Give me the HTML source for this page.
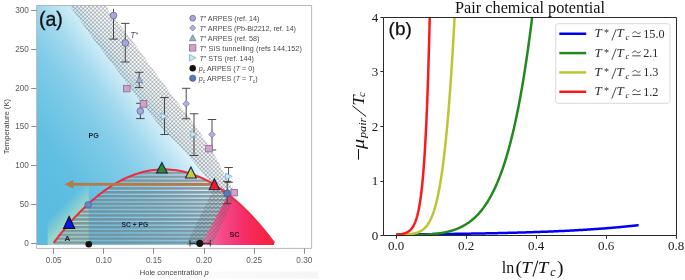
<!DOCTYPE html>
<html><head><meta charset="utf-8"><style>
html,body{margin:0;padding:0;background:#fff;width:685px;height:280px;overflow:hidden}
svg{display:block;will-change:transform}

</style></head><body>
<svg width="685" height="280" viewBox="0 0 685 280">
<defs>
<pattern id="xh" width="2.8" height="2.8" patternUnits="userSpaceOnUse" patternTransform="rotate(45)">
  <rect width="2.8" height="2.8" fill="none"/>
  <line x1="0" y1="0" x2="0" y2="2.8" stroke="#55595f" stroke-opacity="0.7" stroke-width="0.95"/>
  <line x1="0" y1="0" x2="2.8" y2="0" stroke="#55595f" stroke-opacity="0.7" stroke-width="0.95"/>
</pattern>
<pattern id="stripes" width="10" height="3.87" patternUnits="userSpaceOnUse" y="202.64">
  <rect y="0" width="10" height="2.6" fill="#72838b" fill-opacity="0.75"/>
  <rect y="2.6" width="10" height="1.27" fill="#ffffff" fill-opacity="0.15"/>
</pattern>
<linearGradient id="blueg" gradientUnits="userSpaceOnUse" x1="164.1" y1="83.1" x2="-20.4" y2="220.4">
  <stop offset="0" stop-color="#ffffff"/>
  <stop offset="0.087" stop-color="#ebf7fb"/>
  <stop offset="0.13" stop-color="#cdecf7"/>
  <stop offset="0.239" stop-color="#a0d8ee"/>
  <stop offset="0.348" stop-color="#82cce8"/>
  <stop offset="0.565" stop-color="#61bfe2"/>
  <stop offset="0.739" stop-color="#5abce0"/>
  <stop offset="1" stop-color="#55b9de"/>
</linearGradient>
<linearGradient id="greeng" gradientUnits="userSpaceOnUse" x1="59" y1="209" x2="70" y2="220">
  <stop offset="0" stop-color="#b0dfc0" stop-opacity="0"/>
  <stop offset="1" stop-color="#b0dfc0" stop-opacity="0.72"/>
</linearGradient>
<linearGradient id="pinkg" gradientUnits="userSpaceOnUse" x1="200" y1="0" x2="275" y2="0">
  <stop offset="0" stop-color="#f284b0"/>
  <stop offset="0.3" stop-color="#f34a88"/>
  <stop offset="0.6" stop-color="#f52c66"/>
  <stop offset="1" stop-color="#f81e34"/>
</linearGradient>
<clipPath id="lp"><rect x="37" y="5.5" width="274.2" height="239.5"/></clipPath>
<clipPath id="domec"><path d="M53.60,242.96 L56.39,239.28 L59.19,235.69 L61.98,232.20 L64.77,228.81 L67.56,225.50 L70.36,222.30 L73.15,219.18 L75.94,216.16 L78.73,213.24 L81.53,210.41 L84.32,207.67 L87.11,205.03 L89.90,202.48 L92.70,200.03 L95.49,197.67 L98.28,195.40 L101.07,193.23 L103.87,191.16 L106.66,189.17 L109.45,187.29 L112.24,185.49 L115.04,183.80 L117.83,182.19 L120.62,180.68 L123.42,179.27 L126.21,177.95 L129.00,176.72 L131.79,175.59 L134.59,174.55 L137.38,173.60 L140.17,172.76 L142.96,172.00 L145.76,171.34 L148.55,170.77 L151.34,170.30 L154.13,169.92 L156.93,169.64 L159.72,169.45 L162.51,169.36 L165.30,169.36 L168.10,169.45 L170.89,169.64 L173.68,169.92 L176.47,170.30 L179.27,170.77 L182.06,171.34 L184.85,172.00 L187.65,172.76 L190.44,173.60 L193.23,174.55 L196.02,175.59 L198.82,176.72 L201.61,177.95 L204.40,179.27 L207.19,180.68 L209.99,182.19 L212.78,183.80 L215.57,185.49 L218.36,187.29 L221.16,189.17 L223.95,191.16 L226.74,193.23 L229.53,195.40 L232.33,197.67 L235.12,200.03 L237.91,202.48 L240.70,205.03 L243.50,207.67 L246.29,210.41 L249.08,213.24 L251.88,216.16 L254.67,219.18 L257.46,222.30 L260.25,225.50 L263.05,228.81 L265.84,232.20 L268.63,235.69 L271.42,239.28 L274.22,242.96 L274.22,245.5 L53.60,245.5 Z"/></clipPath>
<clipPath id="rp"><rect x="384" y="17.5" width="292" height="218"/></clipPath>
</defs>
<rect width="685" height="280" fill="#fff"/>
<defs><linearGradient id="botg" x1="0" x2="1" y1="0" y2="0"><stop offset="0" stop-color="#f7f7f7" stop-opacity="0"/><stop offset="0.5" stop-color="#f7f7f7" stop-opacity="0.6"/><stop offset="1" stop-color="#f5f5f5"/></linearGradient></defs><rect x="110" y="271.5" width="208.5" height="7" fill="url(#botg)"/>
<g clip-path="url(#lp)">
<rect x="37" y="5" width="275" height="241" fill="url(#blueg)"/>
<rect x="47.6" y="185" width="41.1" height="61" fill="url(#greeng)"/>
<g clip-path="url(#domec)"><rect x="37" y="160" width="275" height="86" fill="url(#stripes)"/></g>
<g clip-path="url(#domec)"><polygon points="229.1,195.1 230.6,196.3 232.2,197.6 233.8,198.9 235.3,200.2 236.9,201.6 238.4,202.9 240.0,204.4 241.5,205.8 243.1,207.3 244.7,208.8 246.2,210.3 247.8,211.9 249.3,213.5 250.9,215.1 252.4,216.8 254.0,218.4 255.5,220.1 257.1,221.9 258.7,223.7 260.2,225.5 261.8,227.3 263.3,229.1 264.9,231.0 266.4,232.9 268.0,234.9 269.5,236.9 271.1,238.9 272.7,240.9 274.2,243.0 274.2,245.5 200.5,245.5 233.0,186.0" fill="url(#pinkg)"/></g>
<polygon points="69.3,5.0 73.3,11.0 94.1,40.0 117.0,70.0 139.2,100.0 163.0,130.0 178.7,145.0 192.0,160.0 200.4,170.0 207.0,178.0 213.0,190.0 186.0,245.5 212.0,245.5 236.0,193.0 227.5,180.0 222.4,170.0 217.5,160.0 198.6,130.0 175.7,100.0 153.5,70.0 132.0,40.0 108.5,11.0 106.6,5.0" fill="url(#xh)"/>
</g>
<path d="M53.60,242.96 L56.39,239.28 L59.19,235.69 L61.98,232.20 L64.77,228.81 L67.56,225.50 L70.36,222.30 L73.15,219.18 L75.94,216.16 L78.73,213.24 L81.53,210.41 L84.32,207.67 L87.11,205.03 L89.90,202.48 L92.70,200.03 L95.49,197.67 L98.28,195.40 L101.07,193.23 L103.87,191.16 L106.66,189.17 L109.45,187.29 L112.24,185.49 L115.04,183.80 L117.83,182.19 L120.62,180.68 L123.42,179.27 L126.21,177.95 L129.00,176.72 L131.79,175.59 L134.59,174.55 L137.38,173.60 L140.17,172.76 L142.96,172.00 L145.76,171.34 L148.55,170.77 L151.34,170.30 L154.13,169.92 L156.93,169.64 L159.72,169.45 L162.51,169.36 L165.30,169.36 L168.10,169.45 L170.89,169.64 L173.68,169.92 L176.47,170.30 L179.27,170.77 L182.06,171.34 L184.85,172.00 L187.65,172.76 L190.44,173.60 L193.23,174.55 L196.02,175.59 L198.82,176.72 L201.61,177.95 L204.40,179.27 L207.19,180.68 L209.99,182.19 L212.78,183.80 L215.57,185.49 L218.36,187.29 L221.16,189.17 L223.95,191.16 L226.74,193.23 L229.53,195.40 L232.33,197.67 L235.12,200.03 L237.91,202.48 L240.70,205.03 L243.50,207.67 L246.29,210.41 L249.08,213.24 L251.88,216.16 L254.67,219.18 L257.46,222.30 L260.25,225.50 L263.05,228.81 L265.84,232.20 L268.63,235.69 L271.42,239.28 L274.22,242.96" fill="none" stroke="#ec2a40" stroke-width="2"/>
<rect x="71" y="182.9" width="140" height="2.8" fill="#b47b48"/>
<polygon points="64.4,184.3 73.3,180 73.3,188.5" fill="#b47b48"/>
<line x1="113.5" y1="8.8" x2="113.5" y2="39.1" stroke="#383838" stroke-width="0.9"/><line x1="109.3" y1="39.1" x2="117.7" y2="39.1" stroke="#383838" stroke-width="0.9"/>
<line x1="125.3" y1="23.4" x2="125.3" y2="62" stroke="#383838" stroke-width="0.9"/><line x1="121.1" y1="23.4" x2="129.5" y2="23.4" stroke="#383838" stroke-width="0.9"/><line x1="121.1" y1="62" x2="129.5" y2="62" stroke="#383838" stroke-width="0.9"/>
<line x1="139.2" y1="72.3" x2="139.2" y2="87.6" stroke="#383838" stroke-width="0.9"/><line x1="135.0" y1="72.3" x2="143.39999999999998" y2="72.3" stroke="#383838" stroke-width="0.9"/><line x1="135.0" y1="87.6" x2="143.39999999999998" y2="87.6" stroke="#383838" stroke-width="0.9"/>
<line x1="140.4" y1="103.3" x2="140.4" y2="118.6" stroke="#383838" stroke-width="0.9"/><line x1="136.20000000000002" y1="103.3" x2="144.6" y2="103.3" stroke="#383838" stroke-width="0.9"/><line x1="136.20000000000002" y1="118.6" x2="144.6" y2="118.6" stroke="#383838" stroke-width="0.9"/>
<line x1="164.5" y1="97.5" x2="164.5" y2="134.5" stroke="#383838" stroke-width="0.9"/><line x1="160.3" y1="97.5" x2="168.7" y2="97.5" stroke="#383838" stroke-width="0.9"/><line x1="160.3" y1="134.5" x2="168.7" y2="134.5" stroke="#383838" stroke-width="0.9"/>
<line x1="186.2" y1="88.3" x2="186.2" y2="118.8" stroke="#383838" stroke-width="0.9"/><line x1="182.0" y1="88.3" x2="190.39999999999998" y2="88.3" stroke="#383838" stroke-width="0.9"/><line x1="182.0" y1="118.8" x2="190.39999999999998" y2="118.8" stroke="#383838" stroke-width="0.9"/>
<line x1="194" y1="113.8" x2="194" y2="155.5" stroke="#383838" stroke-width="0.9"/><line x1="189.8" y1="113.8" x2="198.2" y2="113.8" stroke="#383838" stroke-width="0.9"/><line x1="189.8" y1="155.5" x2="198.2" y2="155.5" stroke="#383838" stroke-width="0.9"/>
<line x1="212" y1="119.5" x2="212" y2="150" stroke="#383838" stroke-width="0.9"/><line x1="207.8" y1="119.5" x2="216.2" y2="119.5" stroke="#383838" stroke-width="0.9"/><line x1="207.8" y1="150" x2="216.2" y2="150" stroke="#383838" stroke-width="0.9"/>
<line x1="228.6" y1="167.5" x2="228.6" y2="182.3" stroke="#383838" stroke-width="0.9"/><line x1="224.4" y1="167.5" x2="232.79999999999998" y2="167.5" stroke="#383838" stroke-width="0.9"/><line x1="224.4" y1="182.3" x2="232.79999999999998" y2="182.3" stroke="#383838" stroke-width="0.9"/>
<line x1="227.2" y1="181.4" x2="227.2" y2="203.7" stroke="#383838" stroke-width="0.9"/><line x1="223.0" y1="181.4" x2="231.39999999999998" y2="181.4" stroke="#383838" stroke-width="0.9"/><line x1="223.0" y1="203.7" x2="231.39999999999998" y2="203.7" stroke="#383838" stroke-width="0.9"/>
<circle cx="113.5" cy="15.6" r="3.4" fill="#a7a7d8" stroke="#5d5d94" stroke-width="0.7"/>
<circle cx="125.3" cy="43" r="3.4" fill="#a7a7d8" stroke="#5d5d94" stroke-width="0.7"/>
<polygon points="139.2,76.5 142.5,82.60499999999999 135.89999999999998,82.60499999999999" fill="#9cb2cf" stroke="#5a7394" stroke-width="0.7"/>
<rect x="123.5" y="85.3" width="6.6" height="6.6" fill="#cfa2cc" stroke="#85607f" stroke-width="0.7"/>
<rect x="140.2" y="100.60000000000001" width="6.6" height="6.6" fill="#cfa2cc" stroke="#85607f" stroke-width="0.7"/>
<circle cx="140.3" cy="111.1" r="3.3" fill="#a7a7d8" stroke="#5d5d94" stroke-width="0.7"/>
<polygon points="167.8,116.3 161.2,113.0 161.2,119.6" fill="#c4eaf6" stroke="#7ba1b8" stroke-width="0.7"/>
<polygon points="186.2,100.5 189.5,103.8 186.2,107.1 182.89999999999998,103.8" fill="#b0b0de" stroke="#6e6ea6" stroke-width="0.7"/>
<polygon points="197.3,134.3 190.7,131.0 190.7,137.60000000000002" fill="#c4eaf6" stroke="#7ba1b8" stroke-width="0.7"/>
<polygon points="212,131.2 215.3,134.5 212,137.8 208.7,134.5" fill="#b0b0de" stroke="#6e6ea6" stroke-width="0.7"/>
<rect x="205.7" y="145.29999999999998" width="6.6" height="6.6" fill="#cfa2cc" stroke="#85607f" stroke-width="0.7"/>
<polygon points="232.20000000000002,176.4 225.6,173.1 225.6,179.70000000000002" fill="#c4eaf6" stroke="#7ba1b8" stroke-width="0.7"/>
<rect x="231.0" y="189.39999999999998" width="6.6" height="6.6" fill="#cfa2cc" stroke="#85607f" stroke-width="0.7"/>
<circle cx="227.1" cy="193.4" r="3.5" fill="#5a78b8" stroke="#3d558a" stroke-width="0.7"/>
<circle cx="88.1" cy="204.8" r="3.3" fill="#6a86c0" stroke="#4a64a0" stroke-width="0.7"/>
<line x1="190" y1="243.3" x2="210.2" y2="243.3" stroke="#222" stroke-width="0.9"/><line x1="190" y1="240" x2="190" y2="246.5" stroke="#222" stroke-width="0.9"/><line x1="210.2" y1="240" x2="210.2" y2="246.5" stroke="#222" stroke-width="0.9"/>
<circle cx="199.8" cy="243.3" r="3.6" fill="#111"/>
<circle cx="88.8" cy="244.3" r="3.3" fill="#111"/>
<polygon points="69.1,216.6 74.7,228.4 63.5,228.4" fill="#0a14f0" stroke="#101018" stroke-width="1.1"/>
<polygon points="161.9,162.5 167.3,173 156.5,173" fill="#2c8c2a" stroke="#1c2350" stroke-width="1.1" stroke-linejoin="miter"/>
<polygon points="190.9,167 196.3,178 185.5,178" fill="#c5cf3a" stroke="#1c2350" stroke-width="1.1" stroke-linejoin="miter"/>
<polygon points="214.4,178.8 219.6,189.8 209.20000000000002,189.8" fill="#f01c1c" stroke="#1c2350" stroke-width="1.1" stroke-linejoin="miter"/>
<text x="38.9" y="25.5" font-family="Liberation Sans" font-size="19.5" fill="#111" stroke="#111" stroke-width="0.3">(a)</text>
<text x="88.5" y="137.7" font-family="Liberation Sans" font-size="7.2" font-weight="bold" fill="#1d2a36">PG</text>
<text x="121.6" y="227.1" font-family="Liberation Sans" font-size="7.2" font-weight="bold" fill="#1d2a36" textLength="26.6" lengthAdjust="spacingAndGlyphs">SC + PG</text>
<text x="229.5" y="236.8" font-family="Liberation Sans" font-size="7.2" font-weight="bold" fill="#3b1024">SC</text>
<text x="64.5" y="240.6" font-family="Liberation Sans" font-size="8" font-weight="bold" fill="#1d2a36">A</text>
<text x="130.3" y="38" font-family="Liberation Sans" font-size="8.4" font-style="italic" fill="#555">T<tspan font-size="6.5" font-style="normal" dx="0.3" dy="-1.2">*</tspan></text>
<circle cx="192.7" cy="18.2" r="2.9" fill="#a7a7d8" stroke="#5d5d94" stroke-width="0.7"/>
<polygon points="192.7,24.9 195.7,27.9 192.7,30.9 189.7,27.9" fill="#b0b0de" stroke="#6e6ea6" stroke-width="0.7"/>
<polygon points="192.7,34.8 195.89999999999998,40.72 189.5,40.72" fill="#9cb2cf" stroke="#5a7394" stroke-width="0.7"/>
<rect x="189.5" y="44.699999999999996" width="6.4" height="6.4" fill="#cfa2cc" stroke="#85607f" stroke-width="0.7"/>
<polygon points="196.0,57.8 189.39999999999998,54.5 189.39999999999998,61.099999999999994" fill="#c4eaf6" stroke="#7ba1b8" stroke-width="0.7"/>
<circle cx="192.7" cy="68.3" r="3.2" fill="#111"/>
<circle cx="192.7" cy="78.2" r="3.2" fill="#5a78b8" stroke="#3d558a" stroke-width="0.5"/>
<text x="199.5" y="21.3" font-family="Liberation Sans" font-size="7.2" fill="#4a4a4a" textLength="60" lengthAdjust="spacing"><tspan font-style="italic">T</tspan><tspan font-size="6" dy="-1.2">*</tspan><tspan dy="1.2"> ARPES (ref. 14)</tspan></text>
<text x="199.5" y="31.1" font-family="Liberation Sans" font-size="7.2" fill="#4a4a4a" textLength="96.5" lengthAdjust="spacing"><tspan font-style="italic">T</tspan><tspan font-size="6" dy="-1.2">*</tspan><tspan dy="1.2"> ARPES (Pb-Bi2212, ref. 14)</tspan></text>
<text x="199.5" y="40.9" font-family="Liberation Sans" font-size="7.2" fill="#4a4a4a" textLength="60" lengthAdjust="spacing"><tspan font-style="italic">T</tspan><tspan font-size="6" dy="-1.2">*</tspan><tspan dy="1.2"> ARPES (ref. 58)</tspan></text>
<text x="199.5" y="50.9" font-family="Liberation Sans" font-size="7.2" fill="#4a4a4a" textLength="102.3" lengthAdjust="spacing"><tspan font-style="italic">T</tspan><tspan font-size="6" dy="-1.2">*</tspan><tspan dy="1.2"> SIS tunnelling (refs 144,152)</tspan></text>
<text x="199.5" y="60.9" font-family="Liberation Sans" font-size="7.2" fill="#4a4a4a" textLength="54.5" lengthAdjust="spacing"><tspan font-style="italic">T</tspan><tspan font-size="6" dy="-1.2">*</tspan><tspan dy="1.2"> STS (ref. 144)</tspan></text>
<text x="198.8" y="71" font-family="Liberation Sans" font-size="7.2" fill="#4a4a4a"><tspan font-style="italic">p</tspan><tspan font-size="5" dy="1.5">c</tspan><tspan dy="-1.5"> ARPES (</tspan><tspan font-style="italic">T</tspan> = 0)</text>
<text x="198.8" y="81" font-family="Liberation Sans" font-size="7.2" fill="#4a4a4a"><tspan font-style="italic">p</tspan><tspan font-size="5" dy="1.5">c</tspan><tspan dy="-1.5"> ARPES (</tspan><tspan font-style="italic">T</tspan> = <tspan font-style="italic">T</tspan><tspan font-size="5" dy="1.5">c</tspan><tspan dy="-1.5">)</tspan></text>
<path d="M36.6,5.5 H311.6 V248.4 H36.6 Z" fill="none" stroke="#b0b0b0" stroke-width="0.9"/>
<line x1="31.2" y1="243.50" x2="36.6" y2="243.50" stroke="#808080" stroke-width="0.9"/>
<text x="28.9" y="246.20" text-anchor="end" font-family="Liberation Sans" font-size="8.2" fill="#5c5c5c">0</text>
<line x1="31.2" y1="204.50" x2="36.6" y2="204.50" stroke="#808080" stroke-width="0.9"/>
<text x="28.9" y="207.20" text-anchor="end" font-family="Liberation Sans" font-size="8.2" fill="#5c5c5c">50</text>
<line x1="31.2" y1="165.50" x2="36.6" y2="165.50" stroke="#808080" stroke-width="0.9"/>
<text x="28.9" y="168.20" text-anchor="end" font-family="Liberation Sans" font-size="8.2" fill="#5c5c5c">100</text>
<line x1="31.2" y1="126.50" x2="36.6" y2="126.50" stroke="#808080" stroke-width="0.9"/>
<text x="28.9" y="129.20" text-anchor="end" font-family="Liberation Sans" font-size="8.2" fill="#5c5c5c">150</text>
<line x1="31.2" y1="88.50" x2="36.6" y2="88.50" stroke="#808080" stroke-width="0.9"/>
<text x="28.9" y="91.20" text-anchor="end" font-family="Liberation Sans" font-size="8.2" fill="#5c5c5c">200</text>
<line x1="31.2" y1="49.50" x2="36.6" y2="49.50" stroke="#808080" stroke-width="0.9"/>
<text x="28.9" y="52.20" text-anchor="end" font-family="Liberation Sans" font-size="8.2" fill="#5c5c5c">250</text>
<line x1="31.2" y1="10.50" x2="36.6" y2="10.50" stroke="#808080" stroke-width="0.9"/>
<text x="28.9" y="13.20" text-anchor="end" font-family="Liberation Sans" font-size="8.2" fill="#5c5c5c">300</text>
<line x1="53.50" y1="248.4" x2="53.50" y2="253.8" stroke="#808080" stroke-width="0.9"/>
<text x="53.60" y="262.9" text-anchor="middle" font-family="Liberation Sans" font-size="8.2" fill="#5c5c5c">0.05</text>
<line x1="103.50" y1="248.4" x2="103.50" y2="253.8" stroke="#808080" stroke-width="0.9"/>
<text x="103.74" y="262.9" text-anchor="middle" font-family="Liberation Sans" font-size="8.2" fill="#5c5c5c">0.10</text>
<line x1="153.50" y1="248.4" x2="153.50" y2="253.8" stroke="#808080" stroke-width="0.9"/>
<text x="153.88" y="262.9" text-anchor="middle" font-family="Liberation Sans" font-size="8.2" fill="#5c5c5c">0.15</text>
<line x1="204.50" y1="248.4" x2="204.50" y2="253.8" stroke="#808080" stroke-width="0.9"/>
<text x="204.02" y="262.9" text-anchor="middle" font-family="Liberation Sans" font-size="8.2" fill="#5c5c5c">0.20</text>
<line x1="254.50" y1="248.4" x2="254.50" y2="253.8" stroke="#808080" stroke-width="0.9"/>
<text x="254.16" y="262.9" text-anchor="middle" font-family="Liberation Sans" font-size="8.2" fill="#5c5c5c">0.25</text>
<line x1="304.50" y1="248.4" x2="304.50" y2="253.8" stroke="#808080" stroke-width="0.9"/>
<text x="304.30" y="262.9" text-anchor="middle" font-family="Liberation Sans" font-size="8.2" fill="#5c5c5c">0.30</text>
<text x="139.8" y="274.8" font-family="Liberation Sans" font-size="7.6" fill="#444" textLength="69" lengthAdjust="spacingAndGlyphs">Hole concentration <tspan font-style="italic">p</tspan></text>
<text transform="translate(9.4,154.3) rotate(-90)" font-family="Liberation Sans" font-size="7.9" fill="#444" textLength="55.4" lengthAdjust="spacingAndGlyphs">Temperature (K)</text>
<g clip-path="url(#rp)">
<path d="M396.00,234.43 L397.22,234.42 L398.44,234.41 L399.66,234.41 L400.88,234.40 L402.10,234.39 L403.31,234.38 L404.53,234.37 L405.75,234.36 L406.97,234.35 L408.19,234.34 L409.41,234.33 L410.63,234.32 L411.85,234.31 L413.07,234.30 L414.29,234.29 L415.51,234.28 L416.72,234.27 L417.94,234.26 L419.16,234.25 L420.38,234.24 L421.60,234.23 L422.82,234.22 L424.04,234.21 L425.26,234.20 L426.48,234.19 L427.70,234.17 L428.92,234.16 L430.13,234.15 L431.35,234.14 L432.57,234.12 L433.79,234.11 L435.01,234.10 L436.23,234.09 L437.45,234.07 L438.67,234.06 L439.89,234.05 L441.11,234.03 L442.33,234.02 L443.55,234.00 L444.76,233.99 L445.98,233.98 L447.20,233.96 L448.42,233.95 L449.64,233.93 L450.86,233.91 L452.08,233.90 L453.30,233.88 L454.52,233.87 L455.74,233.85 L456.96,233.83 L458.17,233.82 L459.39,233.80 L460.61,233.78 L461.83,233.77 L463.05,233.75 L464.27,233.73 L465.49,233.71 L466.71,233.69 L467.93,233.67 L469.15,233.65 L470.37,233.63 L471.58,233.62 L472.80,233.60 L474.02,233.57 L475.24,233.55 L476.46,233.53 L477.68,233.51 L478.90,233.49 L480.12,233.47 L481.34,233.45 L482.56,233.42 L483.78,233.40 L484.99,233.38 L486.21,233.35 L487.43,233.33 L488.65,233.31 L489.87,233.28 L491.09,233.26 L492.31,233.23 L493.53,233.21 L494.75,233.18 L495.97,233.15 L497.19,233.13 L498.40,233.10 L499.62,233.07 L500.84,233.05 L502.06,233.02 L503.28,232.99 L504.50,232.96 L505.72,232.93 L506.94,232.90 L508.16,232.87 L509.38,232.84 L510.60,232.81 L511.81,232.78 L513.03,232.74 L514.25,232.71 L515.47,232.68 L516.69,232.65 L517.91,232.61 L519.13,232.58 L520.35,232.54 L521.57,232.51 L522.79,232.47 L524.01,232.43 L525.22,232.40 L526.44,232.36 L527.66,232.32 L528.88,232.28 L530.10,232.24 L531.32,232.20 L532.54,232.16 L533.76,232.12 L534.98,232.08 L536.20,232.04 L537.42,232.00 L538.64,231.95 L539.85,231.91 L541.07,231.86 L542.29,231.82 L543.51,231.77 L544.73,231.73 L545.95,231.68 L547.17,231.63 L548.39,231.58 L549.61,231.53 L550.83,231.48 L552.05,231.43 L553.26,231.38 L554.48,231.33 L555.70,231.27 L556.92,231.22 L558.14,231.17 L559.36,231.11 L560.58,231.05 L561.80,231.00 L563.02,230.94 L564.24,230.88 L565.46,230.82 L566.67,230.76 L567.89,230.70 L569.11,230.64 L570.33,230.57 L571.55,230.51 L572.77,230.45 L573.99,230.38 L575.21,230.31 L576.43,230.24 L577.65,230.18 L578.87,230.11 L580.08,230.04 L581.30,229.96 L582.52,229.89 L583.74,229.82 L584.96,229.74 L586.18,229.67 L587.40,229.59 L588.62,229.51 L589.84,229.43 L591.06,229.35 L592.28,229.27 L593.49,229.19 L594.71,229.10 L595.93,229.02 L597.15,228.93 L598.37,228.84 L599.59,228.76 L600.81,228.66 L602.03,228.57 L603.25,228.48 L604.47,228.39 L605.69,228.29 L606.90,228.19 L608.12,228.10 L609.34,228.00 L610.56,227.89 L611.78,227.79 L613.00,227.69 L614.22,227.58 L615.44,227.48 L616.66,227.37 L617.88,227.26 L619.10,227.14 L620.31,227.03 L621.53,226.92 L622.75,226.80 L623.97,226.68 L625.19,226.56 L626.41,226.44 L627.63,226.31 L628.85,226.19 L630.07,226.06 L631.29,225.93 L632.51,225.80 L633.73,225.67 L634.94,225.53 L636.16,225.40 L637.38,225.26 L638.60,225.12" fill="none" stroke="#0000f4" stroke-width="2.5"/>
<path d="M396.00,234.73 L424.06,234.73 L424.19,234.72 L424.32,234.72 L424.45,234.71 L424.58,234.70 L424.72,234.70 L424.85,234.69 L424.99,234.68 L425.13,234.67 L425.27,234.67 L425.42,234.66 L425.56,234.65 L425.71,234.64 L425.86,234.64 L426.01,234.63 L426.16,234.62 L426.31,234.61 L426.46,234.60 L426.62,234.59 L426.78,234.58 L426.94,234.57 L427.10,234.56 L427.26,234.55 L427.43,234.54 L427.59,234.53 L427.76,234.52 L427.93,234.51 L428.10,234.50 L428.27,234.49 L428.45,234.48 L428.62,234.46 L428.80,234.45 L428.98,234.44 L429.16,234.43 L429.34,234.41 L429.52,234.40 L429.71,234.39 L429.90,234.37 L430.08,234.36 L430.27,234.34 L430.47,234.33 L430.66,234.31 L430.85,234.30 L431.05,234.28 L431.25,234.26 L431.45,234.25 L431.65,234.23 L431.85,234.21 L432.06,234.19 L432.27,234.17 L432.47,234.16 L432.68,234.14 L432.89,234.12 L433.11,234.10 L433.32,234.08 L433.54,234.05 L433.76,234.03 L433.98,234.01 L434.20,233.99 L434.42,233.96 L434.64,233.94 L434.87,233.92 L435.10,233.89 L435.33,233.87 L435.56,233.84 L435.79,233.81 L436.02,233.79 L436.26,233.76 L436.50,233.73 L436.73,233.70 L436.97,233.67 L437.22,233.64 L437.46,233.61 L437.71,233.58 L437.95,233.55 L438.20,233.51 L438.45,233.48 L438.70,233.44 L438.96,233.41 L439.21,233.37 L439.47,233.33 L439.73,233.30 L439.99,233.26 L440.25,233.22 L440.51,233.18 L440.78,233.13 L441.04,233.09 L441.31,233.05 L441.58,233.00 L441.85,232.96 L442.12,232.91 L442.40,232.86 L442.67,232.81 L442.95,232.76 L443.23,232.71 L443.51,232.66 L443.79,232.60 L444.08,232.55 L444.36,232.49 L444.65,232.44 L444.94,232.38 L445.23,232.32 L445.52,232.25 L445.82,232.19 L446.11,232.13 L446.41,232.06 L446.71,231.99 L447.01,231.93 L447.31,231.85 L447.61,231.78 L447.92,231.71 L448.23,231.63 L448.54,231.56 L448.85,231.48 L449.16,231.40 L449.47,231.31 L449.79,231.23 L450.10,231.14 L450.42,231.05 L450.74,230.96 L451.06,230.87 L451.38,230.78 L451.71,230.68 L452.04,230.58 L452.36,230.48 L452.69,230.37 L453.02,230.27 L453.36,230.16 L453.69,230.05 L454.03,229.94 L454.37,229.82 L454.70,229.70 L455.05,229.58 L455.39,229.45 L455.73,229.33 L456.08,229.20 L456.43,229.06 L456.77,228.93 L457.12,228.79 L457.48,228.65 L457.83,228.50 L458.19,228.35 L458.54,228.20 L458.90,228.04 L459.26,227.88 L459.62,227.72 L459.99,227.55 L460.35,227.38 L460.72,227.21 L461.09,227.03 L461.46,226.85 L461.83,226.66 L462.20,226.47 L462.58,226.27 L462.96,226.07 L463.33,225.87 L463.71,225.66 L464.09,225.44 L464.48,225.22 L464.86,225.00 L465.25,224.77 L465.64,224.54 L466.03,224.30 L466.42,224.05 L466.81,223.80 L467.20,223.54 L467.60,223.28 L468.00,223.01 L468.40,222.73 L468.80,222.45 L469.20,222.17 L469.60,221.87 L470.01,221.57 L470.42,221.26 L470.83,220.95 L471.24,220.62 L471.65,220.29 L472.06,219.96 L472.48,219.61 L472.90,219.26 L473.31,218.90 L473.73,218.53 L474.16,218.15 L474.58,217.76 L475.01,217.37 L475.43,216.96 L475.86,216.55 L476.29,216.13 L476.72,215.69 L477.16,215.25 L477.59,214.80 L478.03,214.34 L478.46,213.86 L478.90,213.38 L479.35,212.88 L479.79,212.37 L480.23,211.85 L480.68,211.32 L481.13,210.78 L481.58,210.22 L482.03,209.66 L482.48,209.07 L482.94,208.48 L483.39,207.87 L483.85,207.25 L484.31,206.61 L484.77,205.96 L485.23,205.29 L485.70,204.61 L486.16,203.92 L486.63,203.20 L487.10,202.47 L487.57,201.73 L488.04,200.96 L488.51,200.18 L488.99,199.38 L489.47,198.57 L489.94,197.73 L490.42,196.88 L490.91,196.00 L491.39,195.11 L491.88,194.19 L492.36,193.26 L492.85,192.30 L493.34,191.32 L493.83,190.32 L494.32,189.29 L494.82,188.24 L495.32,187.17 L495.81,186.07 L496.31,184.95 L496.82,183.80 L497.32,182.63 L497.82,181.43 L498.33,180.20 L498.84,178.94 L499.35,177.66 L499.86,176.34 L500.37,174.99 L500.88,173.62 L501.40,172.21 L501.92,170.77 L502.44,169.30 L502.96,167.79 L503.48,166.25 L504.00,164.67 L504.53,163.06 L505.06,161.41 L505.59,159.72 L506.12,157.99 L506.65,156.22 L507.18,154.42 L507.72,152.57 L508.25,150.68 L508.79,148.74 L509.33,146.76 L509.87,144.74 L510.42,142.67 L510.96,140.55 L511.51,138.39 L512.06,136.17 L512.61,133.90 L513.16,131.58 L513.71,129.21 L514.27,126.78 L514.82,124.30 L515.38,121.76 L515.94,119.16 L516.50,116.51 L517.07,113.79 L517.63,111.01 L518.20,108.16 L518.76,105.25 L519.33,102.28 L519.91,99.23 L520.48,96.12 L521.05,92.93 L521.63,89.67 L522.21,86.34 L522.78,82.93 L523.37,79.44 L523.95,75.87 L524.53,72.22 L525.12,68.49 L525.70,64.67 L526.29,60.76 L526.88,56.76 L527.48,52.67 L528.07,48.49 L528.66,44.21 L529.26,39.84 L529.86,35.36 L530.46,30.78 L531.06,26.09 L531.67,21.30 L532.27,16.40 L532.88,11.38 L533.49,6.26 L534.10,1.01 L534.71,-4.36" fill="none" stroke="#22891f" stroke-width="2.5"/>
<path d="M396.00,234.73 L399.15,234.73 L399.37,234.72 L399.59,234.72 L399.81,234.71 L400.03,234.70 L400.25,234.70 L400.47,234.69 L400.69,234.68 L400.90,234.67 L401.12,234.67 L401.33,234.66 L401.55,234.65 L401.76,234.64 L401.97,234.64 L402.18,234.63 L402.39,234.62 L402.60,234.61 L402.81,234.60 L403.02,234.59 L403.22,234.58 L403.43,234.57 L403.64,234.56 L403.84,234.55 L404.04,234.54 L404.25,234.53 L404.45,234.52 L404.65,234.51 L404.85,234.50 L405.05,234.49 L405.25,234.48 L405.45,234.46 L405.64,234.45 L405.84,234.44 L406.04,234.43 L406.23,234.41 L406.43,234.40 L406.62,234.39 L406.81,234.37 L407.00,234.36 L407.20,234.34 L407.39,234.33 L407.58,234.31 L407.77,234.30 L407.96,234.28 L408.14,234.26 L408.33,234.25 L408.52,234.23 L408.71,234.21 L408.89,234.19 L409.08,234.17 L409.26,234.16 L409.45,234.14 L409.63,234.12 L409.81,234.10 L409.99,234.08 L410.18,234.05 L410.36,234.03 L410.54,234.01 L410.72,233.99 L410.90,233.96 L411.08,233.94 L411.26,233.92 L411.43,233.89 L411.61,233.87 L411.79,233.84 L411.96,233.81 L412.14,233.79 L412.32,233.76 L412.49,233.73 L412.67,233.70 L412.84,233.67 L413.01,233.64 L413.19,233.61 L413.36,233.58 L413.53,233.55 L413.70,233.51 L413.88,233.48 L414.05,233.44 L414.22,233.41 L414.39,233.37 L414.56,233.33 L414.73,233.30 L414.90,233.26 L415.07,233.22 L415.23,233.18 L415.40,233.13 L415.57,233.09 L415.74,233.05 L415.91,233.00 L416.07,232.96 L416.24,232.91 L416.41,232.86 L416.57,232.81 L416.74,232.76 L416.90,232.71 L417.07,232.66 L417.23,232.60 L417.40,232.55 L417.56,232.49 L417.73,232.44 L417.89,232.38 L418.05,232.32 L418.22,232.25 L418.38,232.19 L418.54,232.13 L418.71,232.06 L418.87,231.99 L419.03,231.93 L419.19,231.85 L419.36,231.78 L419.52,231.71 L419.68,231.63 L419.84,231.56 L420.00,231.48 L420.16,231.40 L420.33,231.31 L420.49,231.23 L420.65,231.14 L420.81,231.05 L420.97,230.96 L421.13,230.87 L421.29,230.78 L421.45,230.68 L421.61,230.58 L421.77,230.48 L421.93,230.37 L422.09,230.27 L422.26,230.16 L422.42,230.05 L422.58,229.94 L422.74,229.82 L422.90,229.70 L423.06,229.58 L423.22,229.45 L423.38,229.33 L423.54,229.20 L423.70,229.06 L423.86,228.93 L424.02,228.79 L424.18,228.65 L424.34,228.50 L424.50,228.35 L424.66,228.20 L424.82,228.04 L424.98,227.88 L425.14,227.72 L425.31,227.55 L425.47,227.38 L425.63,227.21 L425.79,227.03 L425.95,226.85 L426.11,226.66 L426.28,226.47 L426.44,226.27 L426.60,226.07 L426.76,225.87 L426.92,225.66 L427.09,225.44 L427.25,225.22 L427.41,225.00 L427.58,224.77 L427.74,224.54 L427.90,224.30 L428.07,224.05 L428.23,223.80 L428.40,223.54 L428.56,223.28 L428.73,223.01 L428.89,222.73 L429.06,222.45 L429.22,222.17 L429.39,221.87 L429.56,221.57 L429.72,221.26 L429.89,220.95 L430.06,220.62 L430.23,220.29 L430.39,219.96 L430.56,219.61 L430.73,219.26 L430.90,218.90 L431.07,218.53 L431.24,218.15 L431.41,217.76 L431.58,217.37 L431.75,216.96 L431.92,216.55 L432.09,216.13 L432.27,215.69 L432.44,215.25 L432.61,214.80 L432.79,214.34 L432.96,213.86 L433.13,213.38 L433.31,212.88 L433.48,212.37 L433.66,211.85 L433.84,211.32 L434.01,210.78 L434.19,210.22 L434.37,209.66 L434.55,209.07 L434.72,208.48 L434.90,207.87 L435.08,207.25 L435.26,206.61 L435.44,205.96 L435.63,205.29 L435.81,204.61 L435.99,203.92 L436.17,203.20 L436.36,202.47 L436.54,201.73 L436.73,200.96 L436.91,200.18 L437.10,199.38 L437.28,198.57 L437.47,197.73 L437.66,196.88 L437.85,196.00 L438.04,195.11 L438.23,194.19 L438.42,193.26 L438.61,192.30 L438.80,191.32 L438.99,190.32 L439.19,189.29 L439.38,188.24 L439.58,187.17 L439.77,186.07 L439.97,184.95 L440.16,183.80 L440.36,182.63 L440.56,181.43 L440.76,180.20 L440.96,178.94 L441.16,177.66 L441.36,176.34 L441.56,174.99 L441.77,173.62 L441.97,172.21 L442.18,170.77 L442.38,169.30 L442.59,167.79 L442.79,166.25 L443.00,164.67 L443.21,163.06 L443.42,161.41 L443.63,159.72 L443.84,157.99 L444.05,156.22 L444.27,154.42 L444.48,152.57 L444.70,150.68 L444.91,148.74 L445.13,146.76 L445.35,144.74 L445.56,142.67 L445.78,140.55 L446.00,138.39 L446.22,136.17 L446.45,133.90 L446.67,131.58 L446.89,129.21 L447.12,126.78 L447.34,124.30 L447.57,121.76 L447.80,119.16 L448.03,116.51 L448.26,113.79 L448.49,111.01 L448.72,108.16 L448.96,105.25 L449.19,102.28 L449.42,99.23 L449.66,96.12 L449.90,92.93 L450.14,89.67 L450.38,86.34 L450.62,82.93 L450.86,79.44 L451.10,75.87 L451.34,72.22 L451.59,68.49 L451.84,64.67 L452.08,60.76 L452.33,56.76 L452.58,52.67 L452.83,48.49 L453.08,44.21 L453.34,39.84 L453.59,35.36 L453.85,30.78 L454.10,26.09 L454.36,21.30 L454.62,16.40 L454.88,11.38 L455.14,6.26 L455.40,1.01 L455.67,-4.36" fill="none" stroke="#bcc634" stroke-width="2.5"/>
<path d="M396.03,234.69 L396.15,234.68 L396.27,234.67 L396.38,234.67 L396.50,234.66 L396.62,234.65 L396.73,234.64 L396.85,234.64 L396.97,234.63 L397.08,234.62 L397.20,234.61 L397.32,234.60 L397.43,234.59 L397.55,234.58 L397.67,234.57 L397.78,234.56 L397.90,234.55 L398.02,234.54 L398.13,234.53 L398.25,234.52 L398.37,234.51 L398.48,234.50 L398.60,234.49 L398.72,234.48 L398.83,234.46 L398.95,234.45 L399.07,234.44 L399.18,234.43 L399.30,234.41 L399.42,234.40 L399.53,234.39 L399.65,234.37 L399.77,234.36 L399.88,234.34 L400.00,234.33 L400.12,234.31 L400.23,234.30 L400.35,234.28 L400.47,234.26 L400.58,234.25 L400.70,234.23 L400.82,234.21 L400.93,234.19 L401.05,234.17 L401.17,234.16 L401.28,234.14 L401.40,234.12 L401.52,234.10 L401.63,234.08 L401.75,234.05 L401.87,234.03 L401.98,234.01 L402.10,233.99 L402.22,233.96 L402.33,233.94 L402.45,233.92 L402.57,233.89 L402.68,233.87 L402.80,233.84 L402.92,233.81 L403.03,233.79 L403.15,233.76 L403.27,233.73 L403.38,233.70 L403.50,233.67 L403.62,233.64 L403.73,233.61 L403.85,233.58 L403.97,233.55 L404.08,233.51 L404.20,233.48 L404.32,233.44 L404.43,233.41 L404.55,233.37 L404.67,233.33 L404.78,233.30 L404.90,233.26 L405.02,233.22 L405.13,233.18 L405.25,233.13 L405.37,233.09 L405.48,233.05 L405.60,233.00 L405.72,232.96 L405.83,232.91 L405.95,232.86 L406.07,232.81 L406.18,232.76 L406.30,232.71 L406.42,232.66 L406.53,232.60 L406.65,232.55 L406.77,232.49 L406.88,232.44 L407.00,232.38 L407.12,232.32 L407.23,232.25 L407.35,232.19 L407.47,232.13 L407.58,232.06 L407.70,231.99 L407.82,231.93 L407.93,231.85 L408.05,231.78 L408.17,231.71 L408.28,231.63 L408.40,231.56 L408.52,231.48 L408.63,231.40 L408.75,231.31 L408.87,231.23 L408.98,231.14 L409.10,231.05 L409.22,230.96 L409.33,230.87 L409.45,230.78 L409.57,230.68 L409.68,230.58 L409.80,230.48 L409.92,230.37 L410.03,230.27 L410.15,230.16 L410.27,230.05 L410.38,229.94 L410.50,229.82 L410.62,229.70 L410.74,229.58 L410.85,229.45 L410.97,229.33 L411.09,229.20 L411.20,229.06 L411.32,228.93 L411.44,228.79 L411.55,228.65 L411.67,228.50 L411.79,228.35 L411.90,228.20 L412.02,228.04 L412.14,227.88 L412.25,227.72 L412.37,227.55 L412.49,227.38 L412.60,227.21 L412.72,227.03 L412.84,226.85 L412.95,226.66 L413.07,226.47 L413.19,226.27 L413.30,226.07 L413.42,225.87 L413.54,225.66 L413.65,225.44 L413.77,225.22 L413.89,225.00 L414.00,224.77 L414.12,224.54 L414.24,224.30 L414.35,224.05 L414.47,223.80 L414.59,223.54 L414.70,223.28 L414.82,223.01 L414.94,222.73 L415.05,222.45 L415.17,222.17 L415.29,221.87 L415.40,221.57 L415.52,221.26 L415.64,220.95 L415.75,220.62 L415.87,220.29 L415.99,219.96 L416.10,219.61 L416.22,219.26 L416.34,218.90 L416.45,218.53 L416.57,218.15 L416.69,217.76 L416.80,217.37 L416.92,216.96 L417.04,216.55 L417.15,216.13 L417.27,215.69 L417.39,215.25 L417.50,214.80 L417.62,214.34 L417.74,213.86 L417.85,213.38 L417.97,212.88 L418.09,212.37 L418.20,211.85 L418.32,211.32 L418.44,210.78 L418.55,210.22 L418.67,209.66 L418.79,209.07 L418.90,208.48 L419.02,207.87 L419.14,207.25 L419.25,206.61 L419.37,205.96 L419.49,205.29 L419.60,204.61 L419.72,203.92 L419.84,203.20 L419.95,202.47 L420.07,201.73 L420.19,200.96 L420.30,200.18 L420.42,199.38 L420.54,198.57 L420.65,197.73 L420.77,196.88 L420.89,196.00 L421.00,195.11 L421.12,194.19 L421.24,193.26 L421.35,192.30 L421.47,191.32 L421.59,190.32 L421.70,189.29 L421.82,188.24 L421.94,187.17 L422.05,186.07 L422.17,184.95 L422.29,183.80 L422.40,182.63 L422.52,181.43 L422.64,180.20 L422.75,178.94 L422.87,177.66 L422.99,176.34 L423.10,174.99 L423.22,173.62 L423.34,172.21 L423.45,170.77 L423.57,169.30 L423.69,167.79 L423.80,166.25 L423.92,164.67 L424.04,163.06 L424.15,161.41 L424.27,159.72 L424.39,157.99 L424.50,156.22 L424.62,154.42 L424.74,152.57 L424.85,150.68 L424.97,148.74 L425.09,146.76 L425.21,144.74 L425.32,142.67 L425.44,140.55 L425.56,138.39 L425.67,136.17 L425.79,133.90 L425.91,131.58 L426.02,129.21 L426.14,126.78 L426.26,124.30 L426.37,121.76 L426.49,119.16 L426.61,116.51 L426.72,113.79 L426.84,111.01 L426.96,108.16 L427.07,105.25 L427.19,102.28 L427.31,99.23 L427.42,96.12 L427.54,92.93 L427.66,89.67 L427.77,86.34 L427.89,82.93 L428.01,79.44 L428.12,75.87 L428.24,72.22 L428.36,68.49 L428.47,64.67 L428.59,60.76 L428.71,56.76 L428.82,52.67 L428.94,48.49 L429.06,44.21 L429.17,39.84 L429.29,35.36 L429.41,30.78 L429.52,26.09 L429.64,21.30 L429.76,16.40 L429.87,11.38 L429.99,6.26 L430.11,1.01 L430.22,-4.36" fill="none" stroke="#fa1a1a" stroke-width="2.5"/>
</g>
<path d="M383.5,17.5 H676.5 V235.5 H383.5 Z" fill="none" stroke="#2a2a2a" stroke-width="1"/>
<line x1="380.4" y1="235.50" x2="383.5" y2="235.50" stroke="#2a2a2a" stroke-width="1"/>
<text x="378.2" y="240.00" text-anchor="end" font-family="Liberation Serif" font-size="13" fill="#1a1a1a">0</text>
<line x1="380.4" y1="181.50" x2="383.5" y2="181.50" stroke="#2a2a2a" stroke-width="1"/>
<text x="378.2" y="185.40" text-anchor="end" font-family="Liberation Serif" font-size="13" fill="#1a1a1a">1</text>
<line x1="380.4" y1="126.50" x2="383.5" y2="126.50" stroke="#2a2a2a" stroke-width="1"/>
<text x="378.2" y="130.80" text-anchor="end" font-family="Liberation Serif" font-size="13" fill="#1a1a1a">2</text>
<line x1="380.4" y1="71.50" x2="383.5" y2="71.50" stroke="#2a2a2a" stroke-width="1"/>
<text x="378.2" y="76.20" text-anchor="end" font-family="Liberation Serif" font-size="13" fill="#1a1a1a">3</text>
<line x1="380.4" y1="17.50" x2="383.5" y2="17.50" stroke="#2a2a2a" stroke-width="1"/>
<text x="378.2" y="21.60" text-anchor="end" font-family="Liberation Serif" font-size="13" fill="#1a1a1a">4</text>
<line x1="396.50" y1="235.5" x2="396.50" y2="238.8" stroke="#2a2a2a" stroke-width="1"/>
<text x="396.00" y="250.2" text-anchor="middle" font-family="Liberation Serif" font-size="13" fill="#1a1a1a">0.0</text>
<line x1="466.50" y1="235.5" x2="466.50" y2="238.8" stroke="#2a2a2a" stroke-width="1"/>
<text x="466.00" y="250.2" text-anchor="middle" font-family="Liberation Serif" font-size="13" fill="#1a1a1a">0.2</text>
<line x1="536.50" y1="235.5" x2="536.50" y2="238.8" stroke="#2a2a2a" stroke-width="1"/>
<text x="536.00" y="250.2" text-anchor="middle" font-family="Liberation Serif" font-size="13" fill="#1a1a1a">0.4</text>
<line x1="606.50" y1="235.5" x2="606.50" y2="238.8" stroke="#2a2a2a" stroke-width="1"/>
<text x="606.00" y="250.2" text-anchor="middle" font-family="Liberation Serif" font-size="13" fill="#1a1a1a">0.6</text>
<line x1="676.50" y1="235.5" x2="676.50" y2="238.8" stroke="#2a2a2a" stroke-width="1"/>
<text x="676.00" y="250.2" text-anchor="middle" font-family="Liberation Serif" font-size="13" fill="#1a1a1a">0.8</text>
<text x="455" y="12.8" font-family="Liberation Serif" font-size="16.5" textLength="150" lengthAdjust="spacingAndGlyphs" fill="#111">Pair chemical potential</text>
<text x="388.6" y="35.2" font-family="Liberation Sans" font-size="19" fill="#111" stroke="#111" stroke-width="0.25">(b)</text>
<text x="501.7" y="272.6" font-family="Liberation Serif" font-size="16" fill="#111">ln</text>
<text x="515.5" y="273.5" font-family="Liberation Serif" font-size="19.5" fill="#111">(</text>
<text x="521.2" y="272.6" font-family="Liberation Serif" font-size="16" font-style="italic" textLength="10.6" lengthAdjust="spacingAndGlyphs" fill="#111">T</text>
<line x1="537.8" y1="260.6" x2="533" y2="276.7" stroke="#111" stroke-width="1.05"/>
<text x="537.8" y="272.6" font-family="Liberation Serif" font-size="16" font-style="italic" textLength="10.6" lengthAdjust="spacingAndGlyphs" fill="#111">T</text>
<text x="550.2" y="275.6" font-family="Liberation Serif" font-size="12" font-style="italic" fill="#111">c</text>
<text x="557" y="273.5" font-family="Liberation Serif" font-size="19.5" fill="#111">)</text>
<line x1="358.5" y1="159.6" x2="358.5" y2="149" stroke="#111" stroke-width="1"/>
<g transform="translate(363.6,160.6) rotate(-90)"><text x="11.6" y="0" font-family="Liberation Serif" font-size="16" font-style="italic" textLength="10.1" lengthAdjust="spacingAndGlyphs" fill="#111">μ</text><text x="22.6" y="2.6" font-family="Liberation Serif" font-size="11" font-style="italic" textLength="20.3" lengthAdjust="spacingAndGlyphs" fill="#111">pair</text><text x="54.8" y="0" font-family="Liberation Serif" font-size="16" font-style="italic" textLength="10.4" lengthAdjust="spacingAndGlyphs" fill="#111">T</text><text x="63.6" y="1" font-family="Liberation Serif" font-size="11" font-style="italic" fill="#111">c</text></g>
<line x1="366.2" y1="116.6" x2="352.4" y2="105.8" stroke="#111" stroke-width="1"/>
<rect x="555.7" y="23.7" width="114.3" height="79.6" rx="2.5" fill="#fff" fill-opacity="0.8" stroke="#d6d6d6" stroke-width="0.9"/>
<line x1="559.3" y1="33.75" x2="586.2" y2="33.75" stroke="#0000f4" stroke-width="2.5"/>
<text x="594.6" y="37.40" font-family="Liberation Serif" font-size="13" font-style="italic" fill="#2a2a2a">T</text>
<text x="604.1" y="36.20" font-family="Liberation Serif" font-size="10" fill="#2a2a2a">*</text>
<line x1="616.2" y1="29.20" x2="611.8" y2="40.50" stroke="#222" stroke-width="0.8"/>
<text x="616.4" y="37.40" font-family="Liberation Serif" font-size="13" font-style="italic" fill="#2a2a2a">T</text>
<text x="625.5" y="39.80" font-family="Liberation Serif" font-size="8.5" font-style="italic" fill="#222">c</text>
<path d="M632.4,33.50 C633.8,31.20 635.6,31.40 636.5,32.50 S639.2,34.20 640.6,32.00" fill="none" stroke="#222" stroke-width="0.8"/>
<line x1="632.3" y1="36.50" x2="640.7" y2="36.50" stroke="#222" stroke-width="0.8"/>
<text x="643.2" y="37.50" font-family="Liberation Serif" font-size="12.2" fill="#2a2a2a">15.0</text>
<line x1="559.3" y1="53.10" x2="586.2" y2="53.10" stroke="#22891f" stroke-width="2.5"/>
<text x="594.6" y="56.75" font-family="Liberation Serif" font-size="13" font-style="italic" fill="#2a2a2a">T</text>
<text x="604.1" y="55.55" font-family="Liberation Serif" font-size="10" fill="#2a2a2a">*</text>
<line x1="616.2" y1="48.55" x2="611.8" y2="59.85" stroke="#222" stroke-width="0.8"/>
<text x="616.4" y="56.75" font-family="Liberation Serif" font-size="13" font-style="italic" fill="#2a2a2a">T</text>
<text x="625.5" y="59.15" font-family="Liberation Serif" font-size="8.5" font-style="italic" fill="#222">c</text>
<path d="M632.4,52.85 C633.8,50.55 635.6,50.75 636.5,51.85 S639.2,53.55 640.6,51.35" fill="none" stroke="#222" stroke-width="0.8"/>
<line x1="632.3" y1="55.85" x2="640.7" y2="55.85" stroke="#222" stroke-width="0.8"/>
<text x="643.2" y="56.85" font-family="Liberation Serif" font-size="12.2" fill="#2a2a2a">2.1</text>
<line x1="559.3" y1="72.45" x2="586.2" y2="72.45" stroke="#bcc634" stroke-width="2.5"/>
<text x="594.6" y="76.10" font-family="Liberation Serif" font-size="13" font-style="italic" fill="#2a2a2a">T</text>
<text x="604.1" y="74.90" font-family="Liberation Serif" font-size="10" fill="#2a2a2a">*</text>
<line x1="616.2" y1="67.90" x2="611.8" y2="79.20" stroke="#222" stroke-width="0.8"/>
<text x="616.4" y="76.10" font-family="Liberation Serif" font-size="13" font-style="italic" fill="#2a2a2a">T</text>
<text x="625.5" y="78.50" font-family="Liberation Serif" font-size="8.5" font-style="italic" fill="#222">c</text>
<path d="M632.4,72.20 C633.8,69.90 635.6,70.10 636.5,71.20 S639.2,72.90 640.6,70.70" fill="none" stroke="#222" stroke-width="0.8"/>
<line x1="632.3" y1="75.20" x2="640.7" y2="75.20" stroke="#222" stroke-width="0.8"/>
<text x="643.2" y="76.20" font-family="Liberation Serif" font-size="12.2" fill="#2a2a2a">1.3</text>
<line x1="559.3" y1="91.80" x2="586.2" y2="91.80" stroke="#fa1a1a" stroke-width="2.5"/>
<text x="594.6" y="95.45" font-family="Liberation Serif" font-size="13" font-style="italic" fill="#2a2a2a">T</text>
<text x="604.1" y="94.25" font-family="Liberation Serif" font-size="10" fill="#2a2a2a">*</text>
<line x1="616.2" y1="87.25" x2="611.8" y2="98.55" stroke="#222" stroke-width="0.8"/>
<text x="616.4" y="95.45" font-family="Liberation Serif" font-size="13" font-style="italic" fill="#2a2a2a">T</text>
<text x="625.5" y="97.85" font-family="Liberation Serif" font-size="8.5" font-style="italic" fill="#222">c</text>
<path d="M632.4,91.55 C633.8,89.25 635.6,89.45 636.5,90.55 S639.2,92.25 640.6,90.05" fill="none" stroke="#222" stroke-width="0.8"/>
<line x1="632.3" y1="94.55" x2="640.7" y2="94.55" stroke="#222" stroke-width="0.8"/>
<text x="643.2" y="95.55" font-family="Liberation Serif" font-size="12.2" fill="#2a2a2a">1.2</text>
</svg>
</body></html>
